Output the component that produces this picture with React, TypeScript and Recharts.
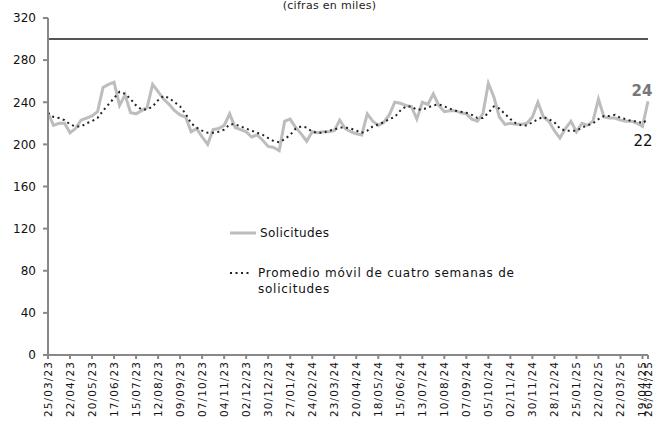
import React from "react";
import { LineChart, Line, XAxis, YAxis, ReferenceLine } from "recharts";

const solicitudes = [
  230, 218, 220, 220, 211, 215, 223, 225, 227, 231, 254, 257, 259, 237, 247, 230, 229, 232, 235, 257,
  250, 243, 238, 232, 228, 226, 212, 215, 207, 200, 214, 215, 218, 229, 216, 214, 212, 207, 209, 204,
  198, 197, 194, 222, 224, 216, 210, 203, 212, 211, 212, 212, 213, 223, 215, 212, 210, 209, 229, 222,
  218, 221, 228, 240, 239, 237, 236, 224, 240, 238, 248, 237, 231, 232, 232, 230, 229, 224, 222, 229,
  258, 245, 226, 219, 220, 219, 219, 220, 226, 240, 226, 222, 213, 206, 215, 222, 212, 220, 218, 222,
  243, 226, 225, 225, 223, 222, 222, 220, 217, 241,
];

const promedio = [
  230, 226, 225, 223, 219, 217, 217, 220, 222, 225, 232, 238, 244, 250, 248, 243, 237, 233, 233, 236,
  242, 246, 244, 240, 236, 229, 220, 216, 213, 211, 211, 212, 214, 219, 219, 217, 215, 213, 211, 209,
  206, 203, 202, 205, 209, 215, 217, 216, 212, 211, 211, 213, 214, 216, 216, 215, 213, 211, 213, 217,
  219, 221, 224, 226, 232, 236, 236, 233, 233, 235, 237, 238, 236, 234, 232, 231, 230, 228, 225, 225,
  230, 236, 234, 229, 224, 220, 218, 218, 221, 224, 226, 224, 221, 215, 213, 213, 213, 216, 218, 220,
  224, 227, 227, 228, 225, 224, 222, 222, 220, 224,
];

const tickLabels = [
  "25/03/23", "22/04/23", "20/05/23", "17/06/23", "15/07/23", "12/08/23", "09/09/23", "07/10/23",
  "04/11/23", "02/12/23", "30/12/23", "27/01/24", "24/02/24", "23/03/24", "20/04/24", "18/05/24",
  "15/06/24", "13/07/24", "10/08/24", "07/09/24", "05/10/24", "02/11/24", "30/11/24", "28/12/24",
  "25/01/25", "22/02/25", "22/03/25", "19/04/25", "26/04/25",
];

const yTicks = [0, 40, 80, 120, 160, 200, 240, 280, 320];

// weekly dates starting 25/03/2023
const pad = (n: number) => String(n).padStart(2, "0");
const start = Date.UTC(2023, 2, 25);
const fechas = solicitudes.map((_, i) => {
  const d = new Date(start + i * 7 * 86400000);
  return `${pad(d.getUTCDate())}/${pad(d.getUTCMonth() + 1)}/${String(d.getUTCFullYear()).slice(2)}`;
});

const data = fechas.map((fecha, i) => ({ fecha, solicitudes: solicitudes[i], promedio: promedio[i] }));

const FONT = "DejaVu Sans, sans-serif";
const last = data.length - 1;

const XTick = ({ x, y, payload }: any) => (
  <text
    x={x}
    y={y}
    transform={`rotate(-90, ${x}, ${y})`}
    textAnchor="end"
    dominantBaseline="central"
    fontSize={10.5}
    letterSpacing={1.1}
    fontFamily={FONT}
    fill="#111"
  >
    {payload.value}
  </text>
);

const LegendBox = () => (
  <div
    style={{
      position: "absolute",
      left: 230,
      top: 225,
      fontFamily: FONT,
      fontSize: 12,
      color: "#111",
      letterSpacing: 0.4,
    }}
  >
    <div style={{ display: "flex", alignItems: "center", height: 16 }}>
      <svg width={28} height={6} style={{ marginRight: 2 }}>
        <line x1={0} y1={3} x2={26} y2={3} stroke="#bdbdbd" strokeWidth={3} />
      </svg>
      Solicitudes
    </div>
    <div style={{ display: "flex", alignItems: "flex-start", marginTop: 24, lineHeight: "16px" }}>
      <svg width={26} height={16} style={{ marginRight: 2, flexShrink: 0 }}>
        <line x1={0} y1={8} x2={20} y2={8} stroke="#222" strokeWidth={2} strokeDasharray="2 3.5" />
      </svg>
      <span style={{ display: "block", width: 322, letterSpacing: 0.75 }}>
        Promedio móvil de cuatro semanas de solicitudes
      </span>
    </div>
  </div>
);

export default function App() {
  return (
    <div style={{ position: "absolute", left: 0, top: 0, width: 659, height: 426, background: "#fff" }}>
      <LineChart width={659} height={426} data={data} margin={{ top: 18, right: 11, left: 0, bottom: 0 }}>
        <XAxis
          dataKey="fecha"
          ticks={tickLabels}
          interval={0}
          tick={<XTick />}
          height={71}
          stroke="#888"
          strokeWidth={2}
          tickSize={4}
          padding={{ left: 0, right: 0 }}
        />
        <YAxis
          domain={[0, 320]}
          ticks={yTicks}
          width={48}
          stroke="#888"
          strokeWidth={2}
          tickSize={5}
          tickMargin={7}
          tick={{ fontSize: 12, fontFamily: FONT, fill: "#111" }}
        />
        <ReferenceLine y={300} stroke="#555" strokeWidth={2} />
        <Line
          dataKey="solicitudes"
          name="Solicitudes"
          stroke="#bdbdbd"
          strokeWidth={3}
          dot={false}
          isAnimationActive={false}
          label={(p: any) =>
            p.index === last ? (
              <text key="l1" x={p.x - 6} y={p.y - 5} textAnchor="middle" fontSize={15} fontWeight="bold" fontFamily={FONT} fill="#777">
                {String(p.value).slice(0, 2)}
              </text>
            ) : null
          }
        />
        <Line
          dataKey="promedio"
          name="Promedio móvil de cuatro semanas de solicitudes"
          stroke="#222"
          strokeWidth={2}
          strokeDasharray="2 3.5"
          dot={false}
          isAnimationActive={false}
          label={(p: any) =>
            p.index === last ? (
              <text key="l2" x={p.x - 5} y={p.y + 27} textAnchor="middle" fontSize={15} fontFamily={FONT} fill="#111">
                {String(p.value).slice(0, 2)}
              </text>
            ) : null
          }
        />
      </LineChart>
      <LegendBox />
      <div
        style={{
          position: "absolute",
          top: -1,
          left: 0,
          width: 659,
          textAlign: "center",
          fontFamily: FONT,
          fontSize: 11,
          color: "#222",
          letterSpacing: 0.3,
        }}
      >
        (cifras en miles)
      </div>
    </div>
  );
}
